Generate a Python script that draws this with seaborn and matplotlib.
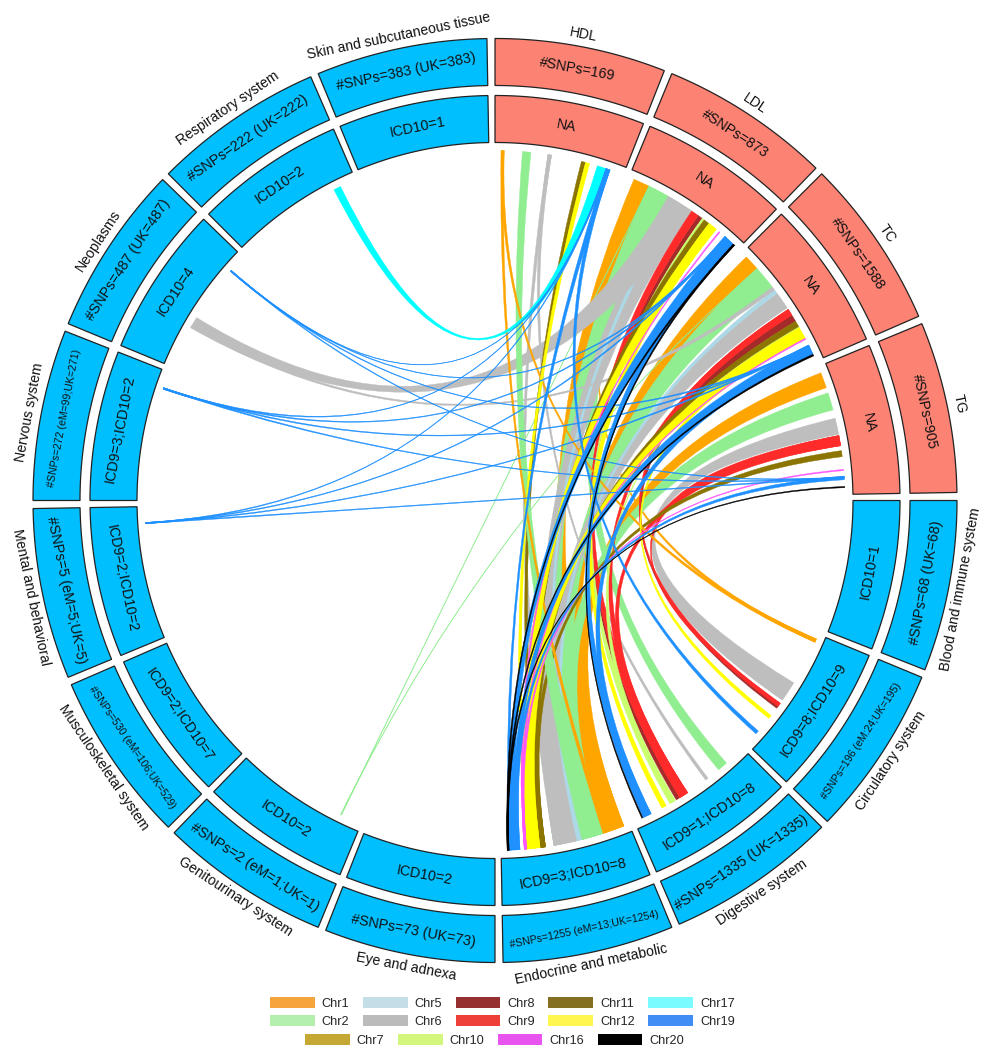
import numpy as np
import matplotlib
matplotlib.use("Agg")
import matplotlib.pyplot as plt
from matplotlib.patches import PathPatch, Patch
from matplotlib.path import Path
import seaborn as sns

# ---------- data ----------
SECTORS = ["HDL", "LDL", "TC", "TG", "Blood", "Circ", "Dig", "Endo", "Eye", "Gen",
           "Musc", "Ment", "Nerv", "Neo", "Resp", "Skin"]
OUTER_TITLES = ["HDL", "LDL", "TC", "TG", "Blood and immune system", "Circulatory system",
                "Digestive system", "Endocrine and metabolic", "Eye and adnexa",
                "Genitourinary system", "Musculoskeletal system", "Mental and behavioral",
                "Nervous system", "Neoplasms", "Respiratory system",
                "Skin and subcutaneous tissue"]
SNP_LABELS = ["#SNPs=169", "#SNPs=873", "#SNPs=1588", "#SNPs=905", "#SNPs=68 (UK=68)",
              "#SNPs=196 (eM:24;UK=195)", "#SNPs=1335 (UK=1335)",
              "#SNPs=1255 (eM=13;UK=1254)", "#SNPs=73 (UK=73)", "#SNPs=2 (eM=1;UK=1)",
              "#SNPs=530 (eM=106;UK=529)", "#SNPs=5 (eM=5;UK=5)",
              "#SNPs=272 (eM=99;UK=271)", "#SNPs=487 (UK=487)", "#SNPs=222 (UK=222)",
              "#SNPs=383 (UK=383)"]
ICD_LABELS = ["NA", "NA", "NA", "NA", "ICD10=1", "ICD9=8;ICD10=9", "ICD9=1;ICD10=8",
              "ICD9=3;ICD10=8", "ICD10=2", "ICD10=2", "ICD9=2;ICD10=7", "ICD9=2;ICD10=2",
              "ICD9=3;ICD10=2", "ICD10=4", "ICD10=2", "ICD10=1"]
SMALL_LABELS = ["#SNPs=196 (eM:24;UK=195)", "#SNPs=1255 (eM=13;UK=1254)",
                "#SNPs=530 (eM=106;UK=529)", "#SNPs=272 (eM=99;UK=271)"]

# links: lipid sector, its interval, disease sector, its interval (sector units 0-21.5)
CHR1 = [("LDL", 0.9, 3.6, "Endo", 0.9, 4.5), ("LDL", 3.2, 3.6, "Circ", 0.8, 1.4),
        ("TC", 0.9, 3.5, "Endo", 0.9, 4.5), ("TG", 1.1, 3.7, "Endo", 0.9, 4.5)]
CHR1_TOP = [("HDL", 1.0, 1.5, "Endo", 3.9, 4.5), ("HDL", 1.0, 1.5, "Circ", 0.8, 1.4)]
CHR2 = [("LDL", 3.6, 7.2, "Endo", 4.5, 8.1), ("LDL", 3.6, 7.2, "Dig", 3.6, 5.3),
        ("TC", 3.5, 7.4, "Endo", 4.5, 8.1), ("TG", 4.6, 7.5, "Endo", 4.5, 8.1),
        ("LDL", 3.6, 3.7, "Gen", 3.5, 3.6), ("TC", 3.5, 3.6, "Gen", 3.6, 3.7)]
CHR2_TOP = [("HDL", 4.5, 5.9, "Endo", 5.5, 8.1)]
CHR6_UNDER = [("HDL", 8.7, 9.3, "Endo", 11.8, 12.8), ("HDL", 8.7, 9.3, "Dig", 7.5, 8.0),
              ("LDL", 7.2, 11.7, "Endo", 8.9, 12.8), ("TC", 8.7, 11.6, "Endo", 8.9, 12.8),
              ("TG", 8.9, 11.6, "Circ", 8.9, 12.3)]
CHR5 = [("LDL", 8.5, 9.2, "Endo", 8.1, 8.9), ("TC", 8.0, 8.7, "Endo", 8.1, 8.9)]
CHR6_OVER = [("LDL", 7.2, 11.7, "Neo", 7.1, 9.0), ("TC", 7.4, 8.0, "Neo", 7.1, 7.6)]
CHR8 = [("LDL", 13.0, 13.8, "Dig", 13.1, 13.8), ("TC", 13.0, 14.2, "Circ", 13.5, 13.9)]
CHR9 = [("LDL", 11.7, 13.0, "Dig", 11.6, 13.1), ("TC", 11.9, 13.0, "Dig", 11.6, 13.1),
        ("TG", 11.8, 13.5, "Dig", 11.6, 13.1), ("TC", 11.9, 13.0, "Circ", 12.9, 13.5),
        ("TG", 11.8, 13.5, "Circ", 12.9, 13.5)]
CHR10 = [("LDL", 13.8, 14.2, "Dig", 14.0, 15.0), ("TC", 15.2, 15.4, "Dig", 14.0, 15.0)]
CHR11 = [("HDL", 14.3, 15.0, "Endo", 14.2, 15.1), ("LDL", 14.2, 15.2, "Endo", 14.2, 15.1),
         ("TC", 14.2, 15.2, "Endo", 14.2, 15.1), ("TG", 14.3, 15.3, "Endo", 14.2, 15.1)]
CHR12 = [("HDL", 15.0, 15.7, "Endo", 16.5, 17.3), ("LDL", 15.2, 16.7, "Endo", 15.1, 17.3),
         ("LDL", 15.2, 16.7, "Dig", 15.7, 16.5), ("TC", 15.4, 17.4, "Endo", 15.1, 17.3),
         ("TC", 16.6, 17.4, "Circ", 15.4, 16.0)]
CHR16 = [("LDL", 17.3, 17.5, "Endo", 17.3, 17.7), ("TC", 17.4, 17.6, "Endo", 17.3, 17.7),
         ("TG", 17.4, 17.6, "Endo", 17.3, 17.7)]
CHR17 = [("HDL", 17.0, 18.5, "Resp", 17.6, 18.8)]
CHR19 = [("HDL", 18.5, 18.7, "Neo", 18.4, 18.6), ("HDL", 18.5, 18.7, "Nerv", 18.55, 18.8),
         ("HDL", 18.5, 18.7, "Ment", 18.7, 18.9), ("HDL", 18.5, 19.2, "Endo", 19.7, 20.2),
         ("HDL", 18.5, 19.2, "Circ", 18.7, 19.3),
         ("LDL", 18.6, 18.9, "Neo", 18.4, 18.6), ("LDL", 18.6, 18.9, "Nerv", 18.55, 18.8),
         ("LDL", 18.6, 18.9, "Ment", 18.7, 18.9), ("LDL", 18.5, 20.4, "Endo", 19.0, 20.2),
         ("LDL", 18.9, 20.4, "Dig", 18.5, 19.9),
         ("TC", 18.7, 19.0, "Neo", 18.4, 18.6), ("TC", 18.7, 19.0, "Nerv", 18.55, 18.8),
         ("TC", 18.7, 19.0, "Ment", 18.7, 18.9), ("TC", 18.6, 20.3, "Endo", 18.4, 19.4),
         ("TC", 19.0, 20.3, "Dig", 18.5, 19.9),
         ("TG", 18.6, 18.8, "Nerv", 18.55, 18.8), ("TG", 18.6, 18.8, "Ment", 18.7, 18.9),
         ("TG", 18.6, 18.8, "Neo", 18.4, 18.6), ("TG", 18.5, 19.1, "Endo", 18.4, 19.0)]
CHR20 = [("LDL", 20.4, 20.7, "Dig", 20.0, 20.2), ("LDL", 20.4, 20.7, "Endo", 20.2, 20.5),
         ("TC", 20.3, 20.6, "Endo", 20.2, 20.5), ("TG", 20.2, 20.4, "Endo", 20.2, 20.5)]

LEGEND_TOP = ["Chr1", "Chr2", "Chr5", "Chr6", "Chr8", "Chr9", "Chr11", "Chr12", "Chr17", "Chr19"]
LEGEND_BOTTOM = ["Chr7", "Chr10", "Chr16", "Chr20"]
LEGEND_COLORS = {"Chr1": "#F5A53C", "Chr2": "#B5EFAE", "Chr5": "#C4DEE8", "Chr6": "#BBBBBB",
                 "Chr7": "#C4A833", "Chr8": "#963030", "Chr9": "#EE4038", "Chr10": "#D2F77C",
                 "Chr11": "#846F20", "Chr12": "#FFF74E", "Chr16": "#E854F0", "Chr17": "#7AFBFF",
                 "Chr19": "#408EF5", "Chr20": "#000000"}
LINK_LAYERS = [(CHR1, "#FFA500"), (CHR2, "#90EE90"), (CHR6_UNDER, "#BEBEBE"), (CHR5, "#ADD8E6"),
               (CHR6_OVER, "#BEBEBE"), (CHR8, "#A52A2A"), (CHR9, "#FF2A2A"), (CHR10, "#CAFF70"),
               (CHR11, "#8B7500"), (CHR2_TOP, "#90EE90"), (CHR1_TOP, "#FFA500"), (CHR12, "#FFFF00"),
               (CHR16, "#FF55FF"), (CHR17, "#00FFFF"), (CHR19, "#1E90FF"), (CHR20, "#000000")]

# ---------- style ----------
sns.set_theme(style="white")
plt.rcParams["font.family"] = ["Liberation Sans", "DejaVu Sans"]
LIPID_COLOR, DISEASE_COLOR = sns.color_palette(["#FC8274", "#00BFFF"])

fig = plt.figure(figsize=(9.99, 10.5), dpi=100)
ax = fig.add_axes([0, 0, 1, 1])
ax.set_xlim(0, 999)
ax.set_ylim(1050, 0)
ax.axis("off")

CX, CY = 495.0, 500.5
STEP, SPAN = 22.5, 21.5
R_LINK, R2_IN, R2_OUT, R1_IN, R1_OUT, R_TITLE = 350, 358, 405, 415, 462, 474
index = {name: i for i, name in enumerate(SECTORS)}


def pt(theta, r):
    t = np.radians(theta)
    return np.array([CX + r * np.sin(t), CY - r * np.cos(t)])


def ang(sector, value):
    return index[sector] * STEP + value


def block(start, r0, r1, color):
    th = np.linspace(start, start + SPAN, 60)
    pts = [pt(t, r1) for t in th] + [pt(t, r0) for t in th[::-1]]
    pts.append(pts[0])
    ax.add_patch(PathPatch(Path(np.array(pts), closed=True), fc=color, ec="#222222", lw=0.9, zorder=3))


def rib(a0, a1, b0, b1, color):
    verts, codes = [], []
    arc = np.linspace(a0, a1, 8)
    verts.append(pt(arc[0], R_LINK)); codes.append(Path.MOVETO)
    for t in arc[1:]:
        verts.append(pt(t, R_LINK)); codes.append(Path.LINETO)
    verts += [np.array([CX, CY]), pt(b0, R_LINK)]; codes += [Path.CURVE3, Path.CURVE3]
    arc = np.linspace(b0, b1, 8)
    for t in arc[1:]:
        verts.append(pt(t, R_LINK)); codes.append(Path.LINETO)
    verts += [np.array([CX, CY]), pt(a0, R_LINK)]; codes += [Path.CURVE3, Path.CURVE3]
    ax.add_patch(PathPatch(Path(np.array(verts), codes), fc=color, ec=color, lw=0.3, zorder=2))


for layer, color in LINK_LAYERS:
    for s0, a0, a1, s1, b0, b1 in layer:
        rib(ang(s0, a0), ang(s0, a1), ang(s1, b0), ang(s1, b1), color)


def label(theta, r, text, size):
    x, y = pt(theta, r)
    rot = 180 - theta if 90 < theta < 270 else -theta
    ax.text(x, y, text, rotation=rot, rotation_mode="anchor", ha="center", va="center",
            fontsize=size, color="#111111", zorder=4)


for i, name in enumerate(SECTORS):
    start = i * STEP
    col = LIPID_COLOR if i < 4 else DISEASE_COLOR
    block(start, R1_IN, R1_OUT, col)
    block(start, R2_IN, R2_OUT, col)
    mid = start + SPAN / 2
    size = 7.6 if SNP_LABELS[i] in SMALL_LABELS else 10.3
    label(mid, (R1_IN + R1_OUT) / 2, SNP_LABELS[i], size)
    label(mid, (R2_IN + R2_OUT) / 2, ICD_LABELS[i], 10.3)
    label(mid, R_TITLE, OUTER_TITLES[i], 10.1)


def handles(names):
    return [Patch(fc=LEGEND_COLORS[n], ec="none", label=n) for n in names]


common = dict(frameon=False, fontsize=9.2, handlelength=3.5, handleheight=0.9, handletextpad=0.55,
              columnspacing=1.05, labelspacing=0.45, borderpad=0, borderaxespad=0, loc="upper left",
              bbox_transform=ax.transData)
top = ax.legend(handles=handles(LEGEND_TOP), ncol=5, bbox_to_anchor=(270, 997), **common)
ax.add_artist(top)
ax.legend(handles=handles(LEGEND_BOTTOM), ncol=4, bbox_to_anchor=(305, 1034), **common)

fig.savefig("out.png", dpi=100, facecolor="white")
